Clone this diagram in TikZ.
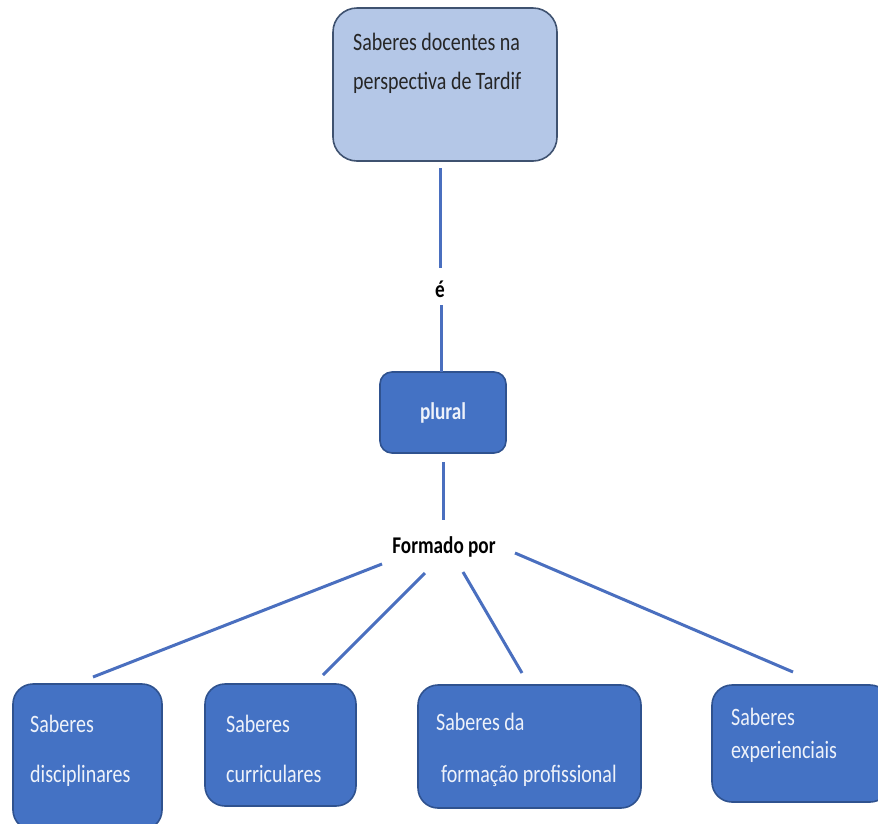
\documentclass[tikz,border=0pt]{standalone}
\usepackage{fontspec}
\newfontfamily\lab[FakeStretch=0.8]{Carlito}
\definecolor{topfill}{HTML}{B4C7E7}
\definecolor{topline}{HTML}{3F5270}
\definecolor{bluefill}{HTML}{4472C4}
\definecolor{blueline}{HTML}{2F528F}
\definecolor{wire}{HTML}{4A6FBF}
\definecolor{boxtext}{HTML}{EEF2FA}
\tikzset{
  topbox/.style={draw=topline, fill=topfill, line width=1.6pt, rounded corners=24pt, inner sep=0pt},
  bluebox/.style={draw=blueline, fill=bluefill, line width=1.6pt, rounded corners=20pt, inner sep=0pt},
  wtxt/.style={text=boxtext, font=\lab\fontsize{25}{28}\selectfont, inner sep=0pt, anchor=base west},
  dtxt/.style={text=black!85, font=\lab\fontsize{25}{28}\selectfont, inner sep=0pt, anchor=base west},
  btxt/.style={text=black, font=\lab\bfseries\fontsize{24}{28}\selectfont, inner sep=0pt},
  wire/.style={draw=wire, line width=3pt}
}
\begin{document}
\begin{tikzpicture}[x=1pt,y=-1pt]
\useasboundingbox (0,0) rectangle (878,823);
\clip (0,0) rectangle (878,823);
% boxes
\node[topbox, minimum width=224pt, minimum height=153pt] (top) at (445,84.5) {};
\node[dtxt] (t1) at (353,50) {Saberes docentes na};
\node[dtxt] (t2) at (353,89) {perspectiva de\,Tardif};

\node[bluebox, rounded corners=12pt, minimum width=126pt, minimum height=81pt] (plural) at (443,412.5) {};
\node[btxt, text=boxtext, anchor=base] (pl) at (443,419) {plural};

\node[bluebox, minimum width=149pt, minimum height=146pt] (b1) at (87.5,757) {};
\node[wtxt] at (30,732) {Saberes};
\node[wtxt] at (30,782) {disciplinares};

\node[bluebox, minimum width=151pt, minimum height=122pt] (b2) at (280.5,745) {};
\node[wtxt] at (226,732) {Saberes};
\node[wtxt] at (226,782) {curriculares};

\node[bluebox, minimum width=223pt, minimum height=123pt] (b3) at (529.5,746.5) {};
\node[wtxt] at (436,730) {Saberes da};
\node[wtxt] at (441,782) {formação profissional};

\node[bluebox, minimum width=178pt, minimum height=117pt] (b4) at (801,743.5) {};
\node[wtxt] at (731,725) {Saberes};
\node[wtxt] at (731,758) {experienciais};

% labels
\node[btxt, anchor=base] (e) at (440,297) {é};
\node[btxt, anchor=base] (form) at (444,553) {Formado por};

% connector endpoints
\coordinate (c1) at (440,168);
\coordinate (c2) at (440,268);
\coordinate (c3) at (441,305);
\coordinate (c4) at (441,372);
\coordinate (c5) at (443,462);
\coordinate (c6) at (443,520);
\coordinate (f1) at (382,564);
\coordinate (g1) at (93,677);
\coordinate (f2) at (425,573);
\coordinate (g2) at (323,675);
\coordinate (f3) at (463,572);
\coordinate (g3) at (522,673);
\coordinate (f4) at (515,553);
\coordinate (g4) at (793,672);

\draw[wire] (c1) -- (c2);
\draw[wire] (c3) -- (c4);
\draw[wire] (c5) -- (c6);
\draw[wire] (f1) -- (g1);
\draw[wire] (f2) -- (g2);
\draw[wire] (f3) -- (g3);
\draw[wire] (f4) -- (g4);
\end{tikzpicture}
\end{document}
